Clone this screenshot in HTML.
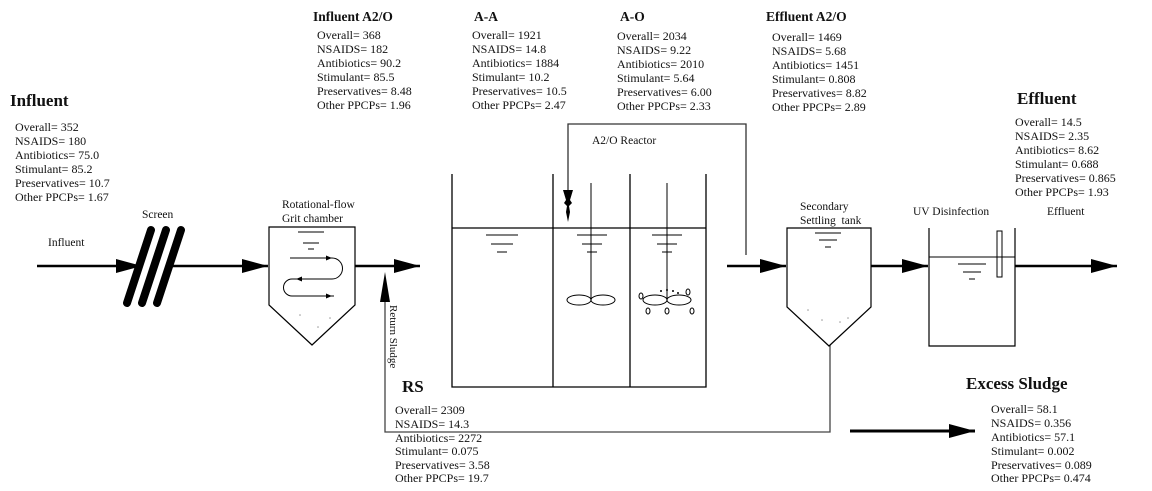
<!DOCTYPE html>
<html><head><meta charset="utf-8"><style>
html,body{margin:0;padding:0;background:#fff;}
svg{display:block;}
text{font-family:"Liberation Serif",serif;fill:#111;}
.t{font-size:12px;}
.b{font-weight:bold;}
</style></head><body>
<svg width="1152" height="491" viewBox="0 0 1152 491" xmlns="http://www.w3.org/2000/svg">
<defs>
<marker id="ah" viewBox="0 0 10 10" refX="10" refY="5" markerWidth="26" markerHeight="14" markerUnits="userSpaceOnUse" orient="auto" preserveAspectRatio="none"><path d="M0,0L10,5L0,10z" fill="#000"/></marker>
</defs>
<g class="t">
<text x="10" y="106" class="b" font-size="17">Influent</text>
<text x="15" y="131">Overall= 352</text><text x="15" y="145">NSAIDS= 180</text><text x="15" y="159">Antibiotics= 75.0</text><text x="15" y="173">Stimulant= 85.2</text><text x="15" y="187">Preservatives= 10.7</text><text x="15" y="201">Other PPCPs= 1.67</text>

<text x="313" y="21" class="b" font-size="13.5">Influent A2/O</text>
<text x="317" y="39">Overall= 368</text><text x="317" y="53">NSAIDS= 182</text><text x="317" y="67">Antibiotics= 90.2</text><text x="317" y="81">Stimulant= 85.5</text><text x="317" y="95">Preservatives= 8.48</text><text x="317" y="109">Other PPCPs= 1.96</text>

<text x="474" y="21" class="b" font-size="13.5">A-A</text>
<text x="472" y="39">Overall= 1921</text><text x="472" y="53">NSAIDS= 14.8</text><text x="472" y="67">Antibiotics= 1884</text><text x="472" y="81">Stimulant= 10.2</text><text x="472" y="95">Preservatives= 10.5</text><text x="472" y="109">Other PPCPs= 2.47</text>

<text x="620" y="21" class="b" font-size="13.5">A-O</text>
<text x="617" y="40">Overall= 2034</text><text x="617" y="54">NSAIDS= 9.22</text><text x="617" y="68">Antibiotics= 2010</text><text x="617" y="82">Stimulant= 5.64</text><text x="617" y="96">Preservatives= 6.00</text><text x="617" y="110">Other PPCPs= 2.33</text>

<text x="766" y="21" class="b" font-size="13.5">Effluent A2/O</text>
<text x="772" y="41">Overall= 1469</text><text x="772" y="55">NSAIDS= 5.68</text><text x="772" y="69">Antibiotics= 1451</text><text x="772" y="83">Stimulant= 0.808</text><text x="772" y="97">Preservatives= 8.82</text><text x="772" y="111">Other PPCPs= 2.89</text>

<text x="1017" y="104" class="b" font-size="17">Effluent</text>
<text x="1015" y="126">Overall= 14.5</text><text x="1015" y="140">NSAIDS= 2.35</text><text x="1015" y="154">Antibiotics= 8.62</text><text x="1015" y="168">Stimulant= 0.688</text><text x="1015" y="182">Preservatives= 0.865</text><text x="1015" y="196">Other PPCPs= 1.93</text>

<text x="402" y="392" class="b" font-size="17">RS</text>
<text x="395" y="414">Overall= 2309</text><text x="395" y="428">NSAIDS= 14.3</text><text x="395" y="442">Antibiotics= 2272</text><text x="395" y="455">Stimulant= 0.075</text><text x="395" y="469">Preservatives= 3.58</text><text x="395" y="482">Other PPCPs= 19.7</text>

<text x="966" y="389" class="b" font-size="17">Excess Sludge</text>
<text x="991" y="413">Overall= 58.1</text><text x="991" y="427">NSAIDS= 0.356</text><text x="991" y="441">Antibiotics= 57.1</text><text x="991" y="455">Stimulant= 0.002</text><text x="991" y="469">Preservatives= 0.089</text><text x="991" y="482">Other PPCPs= 0.474</text>

<text x="48" y="246" font-size="11.5">Influent</text>
<text x="142" y="218" font-size="11.5">Screen</text>
<text x="282" y="208" font-size="11.5">Rotational-flow</text>
<text x="282" y="222" font-size="11.5">Grit chamber</text>
<text x="592" y="144" font-size="11.5">A2/O Reactor</text>
<text x="800" y="210" font-size="11.5">Secondary</text>
<text x="800" y="224" font-size="11.5">Settling&#160; tank</text>
<text x="913" y="215" font-size="11.5">UV Disinfection</text>
<text x="1047" y="215" font-size="11.5">Effluent</text>
<text x="0" y="0" font-size="11" transform="translate(390,305) rotate(90)">Return Sludge</text>
</g>

<g stroke="#000" fill="none">
<line x1="37" y1="266" x2="142" y2="266" stroke-width="2.5" marker-end="url(#ah)"/>
<line x1="170" y1="266" x2="268" y2="266" stroke-width="2.5" marker-end="url(#ah)"/>
<g stroke-width="8" stroke-linecap="round">
<line x1="151" y1="230" x2="127" y2="303"/><line x1="166" y1="230" x2="142" y2="303"/><line x1="181" y1="230" x2="157" y2="303"/>
</g>
<path d="M269,227 L355,227 L355,305 L312,345 L269,305 Z" stroke-width="1.2"/>
<g stroke-width="1"><line x1="298" y1="232" x2="324" y2="232"/><line x1="303" y1="243" x2="319" y2="243"/><line x1="308" y1="249" x2="314" y2="249"/></g>
<path d="M290,258 L332,258 A7,7 0 0 1 332,279 L292,279 A8,8 0 0 0 292,296 L334,296" stroke-width="1"/>
<g fill="#000" stroke="none"><path d="M326,255.5L332,258L326,260.5z"/><path d="M302,276.5L296,279L302,281.5z"/><path d="M326,293.5L332,296L326,298.5z"/></g>
<line x1="355" y1="266" x2="420" y2="266" stroke-width="2.5" marker-end="url(#ah)"/>
<polyline points="830,345 830,432 385,432 385,300" stroke-width="1.3" stroke="#444"/>
<path d="M385,272 L380,302 L390,302 Z" fill="#000" stroke="none"/>
<g stroke-width="1.3">
<polyline points="452,174 452,387 706,387 706,174"/>
<line x1="553" y1="174" x2="553" y2="387"/><line x1="630" y1="174" x2="630" y2="387"/>
<line x1="452" y1="228" x2="706" y2="228"/>
</g>
<g stroke-width="1">
<line x1="486" y1="235" x2="518" y2="235"/><line x1="491" y1="244" x2="513" y2="244"/><line x1="497" y1="252" x2="507" y2="252"/>
<line x1="577" y1="235" x2="607" y2="235"/><line x1="582" y1="244" x2="602" y2="244"/><line x1="587" y1="252" x2="597" y2="252"/>
<line x1="652" y1="235" x2="682" y2="235"/><line x1="657" y1="244" x2="677" y2="244"/><line x1="662" y1="252" x2="672" y2="252"/>
<line x1="591" y1="183" x2="591" y2="300"/><line x1="667" y1="183" x2="667" y2="300"/>
<ellipse cx="579" cy="300" rx="12" ry="5"/><ellipse cx="603" cy="300" rx="12" ry="5"/>
<ellipse cx="655" cy="300" rx="12" ry="5"/><ellipse cx="679" cy="300" rx="12" ry="5"/>
<ellipse cx="641" cy="296" rx="2" ry="3"/><ellipse cx="688" cy="292" rx="2" ry="3"/>
<ellipse cx="648" cy="311" rx="2" ry="3"/><ellipse cx="667" cy="311" rx="2" ry="3"/><ellipse cx="692" cy="311" rx="2" ry="3"/>
</g>
<g fill="#000" stroke="none"><circle cx="661" cy="291" r="1"/><circle cx="667" cy="290" r="1"/><circle cx="673" cy="291" r="1"/><circle cx="678" cy="293" r="1"/></g>
<polyline points="746,255 746,124 568,124 568,200" stroke-width="1.3" stroke="#333"/>
<path d="M563,190 L573,190 L570,200 L572,203 L569,206 L570,212 L568,222 L566,212 L567,206 L564,203 L566,200 Z" fill="#000" stroke="none"/>
<line x1="727" y1="266" x2="786" y2="266" stroke-width="2.5" marker-end="url(#ah)"/>
<path d="M787,228 L871,228 L871,307 L829,346 L787,307 Z" stroke-width="1.2"/>
<g stroke-width="1"><line x1="815" y1="233" x2="841" y2="233"/><line x1="819" y1="240" x2="837" y2="240"/><line x1="825" y1="247" x2="831" y2="247"/></g>
<line x1="871" y1="266" x2="928" y2="266" stroke-width="2.5" marker-end="url(#ah)"/>
<polyline points="929,228 929,346 1015,346 1015,228" stroke-width="1.2"/>
<line x1="929" y1="257" x2="1015" y2="257" stroke-width="1"/>
<g stroke-width="1"><line x1="958" y1="264" x2="986" y2="264"/><line x1="963" y1="272" x2="981" y2="272"/><line x1="969" y1="279" x2="975" y2="279"/></g>
<rect x="997" y="231" width="5" height="46" stroke-width="1"/>
<line x1="1015" y1="266" x2="1117" y2="266" stroke-width="2.5" marker-end="url(#ah)"/>
<line x1="850" y1="431" x2="975" y2="431" stroke-width="3" marker-end="url(#ah)"/>
</g>
<g fill="#999"><circle cx="300" cy="315" r="0.8"/><circle cx="318" cy="327" r="0.8"/><circle cx="330" cy="318" r="0.8"/><circle cx="808" cy="310" r="0.8"/><circle cx="822" cy="320" r="0.8"/><circle cx="840" cy="322" r="0.8"/><circle cx="848" cy="318" r="0.8"/></g>
</svg>
</body></html>
